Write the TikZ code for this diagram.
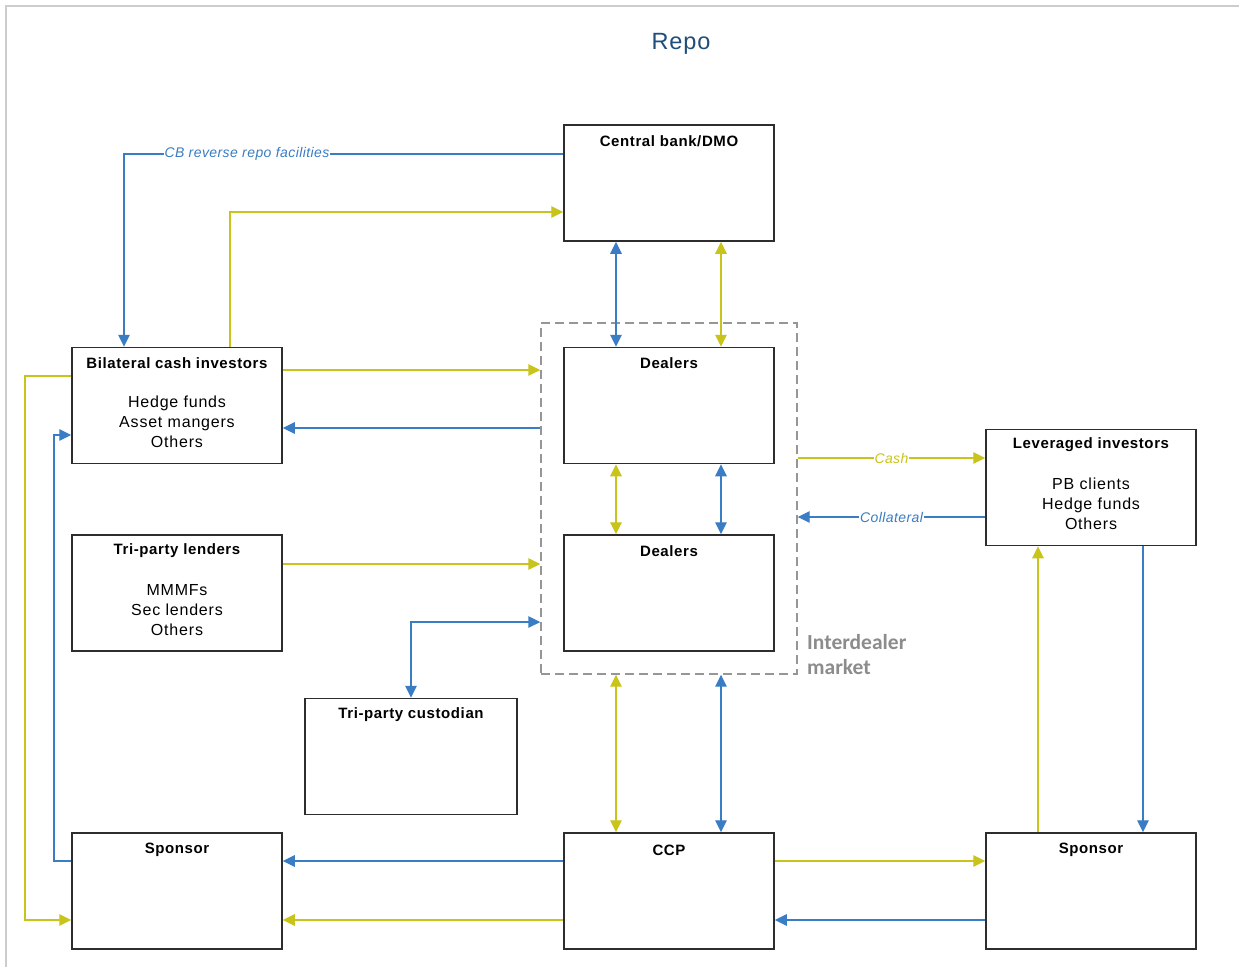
\documentclass[tikz,border=0pt]{standalone}
\usepackage{fontspec}
\setmainfont{Liberation Sans}
\newfontfamily\boxfont[LetterSpace=5]{Liberation Sans}
\newfontfamily\ttlfont[LetterSpace=4]{Liberation Sans}
\newfontfamily\labfont[LetterSpace=3]{Liberation Sans}
\newfontfamily\calfont{Carlito}
\usetikzlibrary{arrows.meta}
\definecolor{bluec}{RGB}{58,125,196}
\definecolor{yelc}{RGB}{201,196,27}
\definecolor{titc}{RGB}{31,78,121}
\definecolor{boxc}{RGB}{45,45,45}
\definecolor{dashc}{RGB}{150,150,150}
\definecolor{idmc}{RGB}{140,140,140}
\definecolor{framec}{RGB}{205,205,205}
\tikzset{
  box/.style={draw=boxc, line width=1.5pt, minimum width=210pt, minimum height=116pt, inner sep=0pt, fill=white},
  ttl/.style={font=\ttlfont\bfseries\fontsize{15}{18}\selectfont, inner sep=0pt},
  body/.style={font=\boxfont\fontsize{16}{20}\selectfont, align=center, inner sep=0pt},
  bl/.style={draw=bluec, line width=1.4pt},
  yl/.style={draw=yelc, line width=1.4pt},
  lab/.style={font=\labfont\itshape\fontsize{14}{16}\selectfont, fill=white, inner sep=1pt},
  >={Triangle[length=12pt,width=11.5pt]}
}
\begin{document}
\begin{tikzpicture}[x=1pt,y=-1pt]
\useasboundingbox (0,0) rectangle (1239,967);
\fill[white] (0,0) rectangle (1239,967);
\draw[framec, line width=2pt] (6,967) -- (6,6) -- (1239,6);

\node[font=\ttlfont\fontsize{23.5}{26}\selectfont, text=titc] (title) at (681,44) {Repo};

% interdealer region
\node[draw=dashc, line width=1.4pt, dash pattern=on 9pt off 5pt, minimum width=256pt, minimum height=351pt, inner sep=0pt] (idm) at (669,498.5) {};
\node[font=\calfont\bfseries\fontsize{21.5}{25}\selectfont, text=idmc, align=left, anchor=west, inner sep=0pt] (idml) at (807,654.5) {Interdealer\\market};

% boxes
\node[box] (cb) at (669,183) {};
\node[ttl] (cbt) at (669,141) {Central bank/DMO};
\node[box] (d1) at (669,405.5) {};
\node[ttl] (d1t) at (669,363) {Dealers};
\node[box] (d2) at (669,593) {};
\node[ttl] (d2t) at (669,551) {Dealers};
\node[box] (bci) at (177,405.5) {};
\node[ttl] (bcit) at (177,363) {Bilateral cash investors};
\node[body] (bcib) at (177,422) {Hedge funds\\Asset mangers\\Others};
\node[box] (tpl) at (177,593) {};
\node[ttl] (tplt) at (177,551) {Tri-party lenders};
\node[body] (tplb) at (177,610) {MMMFs\\Sec lenders\\Others};
\node[box, minimum width=212pt] (tpc) at (411,756.5) {};
\node[ttl] (tpct) at (411,715) {Tri-party custodian};
\node[box] (spl) at (177,891) {};
\node[ttl] (splt) at (177,850) {Sponsor};
\node[box] (ccp) at (669,891) {};
\node[ttl] (ccpt) at (669,850) {CCP};
\node[box] (spr) at (1091,891) {};
\node[ttl] (sprt) at (1091,850) {Sponsor};
\node[box] (lev) at (1091,487.5) {};
\node[ttl] (levt) at (1091,445) {Leveraged investors};
\node[body] (levb) at (1091,504) {PB clients\\Hedge funds\\Others};

% connectors
\draw[bl,->] (cb.west |- 0,154) -- node[lab, text=bluec, pos=0.72] {CB reverse repo facilities} (124,154) -- (bci.north -| 124,0);
\draw[yl,->] (bci.north -| 230,0) -- (230,212) -- (cb.west |- 0,212);
\draw[bl,<->] (cb.south -| 616,0) -- (d1.north -| 616,0);
\draw[yl,<->] (cb.south -| 721,0) -- (d1.north -| 721,0);
\draw[yl,->] (bci.east |- 0,370) -- (idm.west |- 0,370);
\draw[bl,->] (idm.west |- 0,428) -- (bci.east |- 0,428);
\draw[yl,->] (bci.west |- 0,376) -- (25,376) -- (25,920) -- (spl.west |- 0,920);
\draw[bl,->] (spl.west |- 0,861) -- (54,861) -- (54,435) -- (bci.west |- 0,435);
\draw[yl,<->] (d1.south -| 616,0) -- (d2.north -| 616,0);
\draw[bl,<->] (d1.south -| 721,0) -- (d2.north -| 721,0);
\draw[yl,->] (tpl.east |- 0,564) -- (idm.west |- 0,564);
\draw[bl,<->] (tpc.north -| 411,0) -- (411,622) -- (idm.west |- 0,622);
\draw[yl,->] (idm.east |- 0,458) -- node[lab, text=yelc] {Cash} (lev.west |- 0,458);
\draw[bl,->] (lev.west |- 0,517) -- node[lab, text=bluec] {Collateral} (idm.east |- 0,517);
\draw[yl,<->] (idm.south -| 616,0) -- (ccp.north -| 616,0);
\draw[bl,<->] (idm.south -| 721,0) -- (ccp.north -| 721,0);
\draw[bl,->] (ccp.west |- 0,861) -- (spl.east |- 0,861);
\draw[yl,->] (ccp.west |- 0,920) -- (spl.east |- 0,920);
\draw[yl,->] (ccp.east |- 0,861) -- (spr.west |- 0,861);
\draw[bl,->] (spr.west |- 0,920) -- (ccp.east |- 0,920);
\draw[yl,->] (spr.north -| 1038,0) -- (lev.south -| 1038,0);
\draw[bl,->] (lev.south -| 1143,0) -- (spr.north -| 1143,0);
\end{tikzpicture}
\end{document}
